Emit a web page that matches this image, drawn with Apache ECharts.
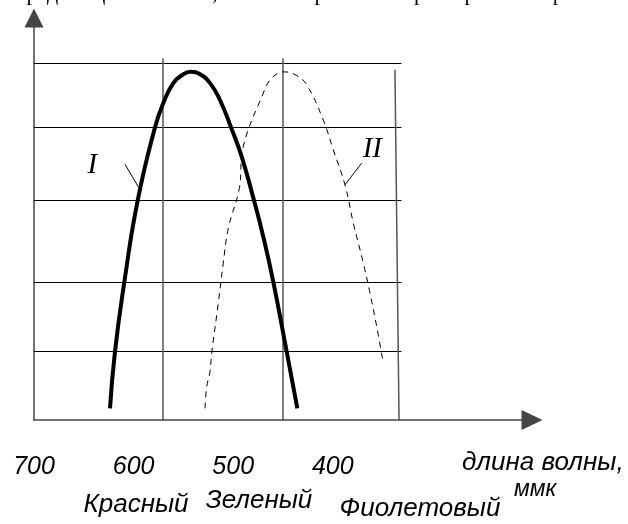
<!DOCTYPE html>
<html><head><meta charset="utf-8">
<script src="https://cdn.jsdelivr.net/npm/echarts@6/dist/echarts.min.js"></script>
<style>html,body{margin:0;padding:0;background:#fff}#c{width:628px;height:524px}</style>
</head><body><div id="c"></div>
<script>
// x: wavelength (nm, axis reversed: 700 at left); y: relative sensitivity (0..100)
const tickLabels = ['700', '600', '500', '400'];
const curveIWavelength = [623.7, 618.7, 609.3, 595.9, 578.5, 570.2, 560.1, 550.1, 542.7, 533.3, 523.3, 513.3, 502.2, 491.5, 479.1, 469.8, 459.7, 446.3, 435.6];
const curveIValue      = [2.9, 17.0, 34.3, 54.6, 72.8, 78.8, 83.8, 86.0, 86.6, 86.0, 83.8, 79.6, 72.8, 65.5, 54.6, 45.6, 34.3, 17.0, 2.9];
const curveIIWavelength = [528.3, 526.6, 523.3, 521.6, 515.0, 510.0, 504.9, 493.9, 489.9, 469.8, 461.2, 448.7, 436.9, 426.2, 409.5, 399.5, 387.8, 379.4, 369.4, 362.7, 355.9, 349.3];
const curveIIValue      = [2.9, 8.3, 12.0, 16.6, 29.0, 39.0, 47.7, 57.6, 68.0, 81.3, 85.1, 86.6, 85.8, 83.4, 74.6, 67.2, 58.5, 49.0, 39.1, 31.6, 23.2, 14.1];
const hGridValues = [88.7, 72.8, 54.6, 34.3, 17.0];
const hGridFrom = 700, hGridTo = 331;
const vGridLines = [[[570.5, 0], [570.5, 90.0]], [[450.0, 0], [450.0, 90.0]], [[333.5, 0], [337.6, 87.1]]];
const leaderI  = [[608.6, 63.6], [595.3, 58.0]];
const leaderII = [[371.0, 63.9], [387.8, 58.5]];
const curveNames = ['I', 'II'];
const colorNames = ['Красный', 'Зеленый', 'Фиолетовый'];
const axisTitle = 'длина волны,';
const axisUnit = 'ммк';
const topLine = 'передача цвета глазом, т. е. спектральная характеристика зрения';

const SANS = '"Liberation Sans", Arial, sans-serif';
const SERIF = '"Liberation Serif", "Times New Roman", serif';
const zip = (a, b) => a.map((v, i) => [v, b[i]]);

const chart = echarts.init(document.getElementById('c'), null, {renderer: 'canvas'});
const axisLineStyle = {color: '#444', width: 1.5};
chart.setOption({
  animation: false,
  backgroundColor: '#fff',
  grid: {left: 34, right: 96, top: 18, bottom: 104, containLabel: false},
  xAxis: {
    type: 'value', min: 200, max: 700, interval: 100, inverse: true,
    axisLine: {show: true, onZero: false, symbol: ['none', 'triangle'], symbolSize: [20, 21], lineStyle: axisLineStyle},
    axisTick: {show: false}, splitLine: {show: false},
    axisLabel: {
      show: true, margin: 47, verticalAlign: 'middle', color: '#000',
      fontFamily: SANS, fontStyle: 'italic', fontSize: 25,
      formatter: v => tickLabels.includes(String(v)) ? String(v) : ''
    }
  },
  yAxis: {
    type: 'value', min: 0, max: 100,
    axisLine: {show: true, onZero: false, symbol: ['none', 'triangle'], symbolSize: [19, 19], lineStyle: axisLineStyle},
    axisTick: {show: false}, axisLabel: {show: false}, splitLine: {show: false}
  },
  series: [
    {type: 'lines', coordinateSystem: 'cartesian2d', silent: true, z: 1,
     lineStyle: {color: '#000', width: 1, opacity: 1},
     data: hGridValues.map(v => ({coords: [[hGridFrom, v], [hGridTo, v]]}))},
    {type: 'lines', coordinateSystem: 'cartesian2d', silent: true, z: 1,
     lineStyle: {color: '#555', width: 1.5, opacity: 1},
     data: vGridLines.map(c => ({coords: c}))},
    {type: 'line', name: curveNames[0], data: zip(curveIWavelength, curveIValue), smooth: 0.5,
     symbol: 'none', z: 3, lineStyle: {color: '#000', width: 4}},
    {type: 'line', name: curveNames[1], data: zip(curveIIWavelength, curveIIValue), smooth: 0.4,
     symbol: 'none', z: 3, lineStyle: {color: '#000', width: 1, type: [6, 5]}},
    {type: 'lines', coordinateSystem: 'cartesian2d', silent: true, z: 3,
     lineStyle: {color: '#000', width: 1, opacity: 1},
     data: [{coords: leaderI}, {coords: leaderII}]}
  ]
});

// curve-name labels placed at the leader line starts (converted through the chart's own axes)
const pI = chart.convertToPixel({gridIndex: 0}, leaderI[0]);
const pII = chart.convertToPixel({gridIndex: 0}, leaderII[0]);
chart.setOption({
  graphic: [
    {type: 'text', x: pI[0] - 28, y: pI[1] + 1, silent: true,
     style: {text: curveNames[0], font: 'italic 29px ' + SERIF, fill: '#000', verticalAlign: 'middle', align: 'right'}},
    {type: 'text', x: pII[0] + 1, y: pII[1] - 14, silent: true,
     style: {text: curveNames[1], font: 'italic 29px ' + SERIF, fill: '#000', verticalAlign: 'middle', align: 'left'}},
    {type: 'text', left: 5, top: -17, silent: true,
     style: {text: topLine, font: '22px ' + SERIF, fill: '#000'}},
    {type: 'text', x: 462, y: 463, silent: true,
     style: {text: axisTitle, font: 'italic 26px ' + SANS, fill: '#000', verticalAlign: 'middle', align: 'left'}},
    {type: 'text', x: 514, y: 490, silent: true,
     style: {text: axisUnit, font: 'italic 23px ' + SANS, fill: '#000', verticalAlign: 'middle', align: 'left'}},
    {type: 'text', x: 136, y: 505, silent: true,
     style: {text: colorNames[0], font: 'italic 26px ' + SANS, fill: '#000', verticalAlign: 'middle', align: 'center'}},
    {type: 'text', x: 259, y: 501, silent: true,
     style: {text: colorNames[1], font: 'italic 26px ' + SANS, fill: '#000', verticalAlign: 'middle', align: 'center'}},
    {type: 'text', x: 420, y: 509, silent: true,
     style: {text: colorNames[2], font: 'italic 26px ' + SANS, fill: '#000', verticalAlign: 'middle', align: 'center'}}
  ]
});
</script></body></html>
